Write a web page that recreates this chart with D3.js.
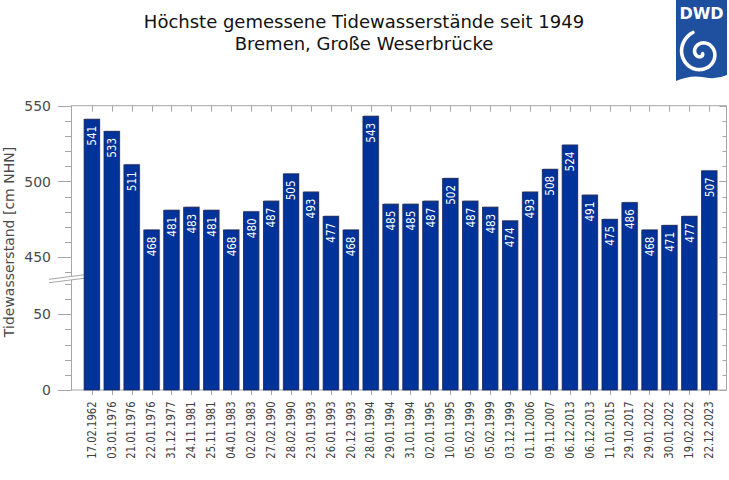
<!DOCTYPE html>
<html><head><meta charset="utf-8">
<script src="https://cdn.jsdelivr.net/npm/d3@7"></script>
<style>body{margin:0;background:#fff}svg{display:block}</style>
</head><body>
<script>
const dates = ["17.02.1962","03.01.1976","21.01.1976","22.01.1976","31.12.1977","24.11.1981","25.11.1981","04.01.1983","02.02.1983","27.02.1990","28.02.1990","23.01.1993","26.01.1993","20.12.1993","28.01.1994","29.01.1994","31.01.1994","02.01.1995","10.01.1995","05.02.1999","05.02.1999","03.12.1999","01.11.2006","09.11.2007","06.12.2013","06.12.2013","11.01.2015","29.10.2017","29.01.2022","30.01.2022","19.02.2022","22.12.2023"];
const values = [541,533,511,468,481,483,481,468,480,487,505,493,477,468,543,485,485,487,502,487,483,474,493,508,524,491,475,486,468,471,477,507];
const majorTicks = [0,50,450,500,550];
const minorTicks = [10,20,30,40,60,70,440,460,470,480,490,510,520,530,540];
const titleLines = ["Höchste gemessene Tidewasserstände seit 1949","Bremen, Große Weserbrücke"];
const yTitle = "Tidewasserstand [cm NHN]";

const W = 729, H = 480;
const L = 71.5, R = 726.5, T = 105.7, B = 390;
const svg = d3.select("body").append("svg").attr("width", W).attr("height", H);
const FONT = "DejaVu Sans, sans-serif";
const AX = "#a6a6a6";

const x = d3.scaleBand().domain(d3.range(values.length)).range([81.8, 719.2]).paddingInner(0.23).paddingOuter(0.115);
const y = d3.scaleLinear().domain([0, 73, 437, 550]).range([B, 279.4, 277, T]);

// title
svg.append("g").selectAll("text").data(titleLines).join("text")
  .attr("x", 364).attr("y", (d,i) => 28 + i*22)
  .attr("text-anchor","middle").attr("font-family",FONT).attr("font-size",18).attr("fill","#111")
  .text(d => d);

// frame
const g = svg.append("g");
g.append("rect").attr("x",L).attr("y",T).attr("width",R-L).attr("height",B-T)
  .attr("fill","none").attr("stroke",AX).attr("stroke-width",1);

// left ticks
g.selectAll(".maj").data(majorTicks).join("line")
  .attr("x1",58).attr("x2",L).attr("y1",d=>Math.round(y(d))+0.5).attr("y2",d=>Math.round(y(d))+0.5)
  .attr("stroke",AX);
g.selectAll(".min").data(minorTicks).join("line")
  .attr("x1",65).attr("x2",L).attr("y1",d=>Math.round(y(d))+0.5).attr("y2",d=>Math.round(y(d))+0.5)
  .attr("stroke",AX);
// right ticks
g.selectAll(".rt").data(majorTicks.concat(minorTicks)).join("line")
  .attr("x1",d=>majorTicks.includes(d)?R-7:R-4).attr("x2",R).attr("y1",d=>Math.round(y(d))+0.5).attr("y2",d=>Math.round(y(d))+0.5)
  .attr("stroke",AX);
// top and bottom ticks at bar centers
const cx = i => x(i) + x.bandwidth()/2;
g.selectAll(".tt").data(d3.range(values.length)).join("line")
  .attr("x1",i=>Math.round(cx(i))+0.5).attr("x2",i=>Math.round(cx(i))+0.5).attr("y1",T).attr("y2",T+6).attr("stroke",AX);
g.selectAll(".bt").data(d3.range(values.length)).join("line")
  .attr("x1",i=>Math.round(cx(i))+0.5).attr("x2",i=>Math.round(cx(i))+0.5).attr("y1",B).attr("y2",B+5).attr("stroke",AX);

// y tick labels
g.selectAll(".yl").data(majorTicks).join("text")
  .attr("x",51).attr("y",d=>y(d)).attr("dy","0.36em").attr("text-anchor","end")
  .attr("font-family",FONT).attr("font-size",14).attr("fill","#4a4a4a").text(d=>d);

// axis break
g.append("polygon").attr("points","49,279.3 84,274.8 84,278.3 49,282.7").attr("fill","#fff");
g.append("line").attr("x1",49).attr("y1",279.3).attr("x2",84).attr("y2",274.8).attr("stroke",AX);
g.append("line").attr("x1",49).attr("y1",282.7).attr("x2",84).attr("y2",278.3).attr("stroke",AX);

// y title
svg.append("text").attr("transform","translate(9,242) rotate(-90)")
  .attr("text-anchor","middle").attr("dominant-baseline","central")
  .attr("font-family",FONT).attr("font-size",14).attr("fill","#4a4a4a").text(yTitle);

// bars
const bars = svg.append("g");
bars.selectAll(".sh").data(values).join("rect")
  .attr("x",(d,i)=>x(i)+1).attr("y",d=>y(d)-1).attr("width",x.bandwidth()).attr("height",d=>B-y(d)+1)
  .attr("fill","#bdbdbd");
bars.selectAll(".b").data(values).join("rect")
  .attr("x",(d,i)=>x(i)).attr("y",d=>y(d)).attr("width",x.bandwidth()).attr("height",d=>B-y(d))
  .attr("fill","#003399").attr("stroke","#1b2560").attr("stroke-width",0.8);

// bar labels
bars.selectAll(".bl").data(values).join("text")
  .attr("transform",(d,i)=>`translate(${cx(i)},${y(d)+6.5}) rotate(-90) scale(0.8,1)`)
  .attr("text-anchor","end").attr("dominant-baseline","central")
  .attr("font-family",FONT).attr("font-size",13).attr("fill","#fff").text(d=>d);

// x labels
svg.append("g").selectAll("text").data(dates).join("text")
  .attr("transform",(d,i)=>`translate(${cx(i)},401.5) rotate(-90) scale(0.8,1)`)
  .attr("text-anchor","end").attr("dominant-baseline","central")
  .attr("font-family",FONT).attr("font-size",12.5).attr("fill","#404040").text(d=>d);

// DWD logo
const logo = svg.append("g");
logo.append("rect").attr("x",676).attr("y",0).attr("width",51).attr("height",86).attr("fill","#1f4f9f");
logo.append("text").attr("x",701.5).attr("y",19).attr("text-anchor","middle")
  .attr("font-family",FONT).attr("font-weight","bold").attr("font-size",16).attr("fill","#fff").text("DWD");
const sp = [];
for (let t = 0.6; t <= 3.4*Math.PI; t += 0.1) {
  const r = 2.1*t;
  sp.push([701.5 + r*Math.cos(t), 53 + r*Math.sin(t)]);
}
logo.append("path").attr("d", d3.line().curve(d3.curveCatmullRom)(sp))
  .attr("fill","none").attr("stroke","#fff").attr("stroke-width",3.6).attr("stroke-linecap","round");
logo.append("path").attr("d","M676,81 Q690,75 702,77 Q716,80 727,75 L727,87 L676,87 Z").attr("fill","#fff");
</script>
</body></html>
